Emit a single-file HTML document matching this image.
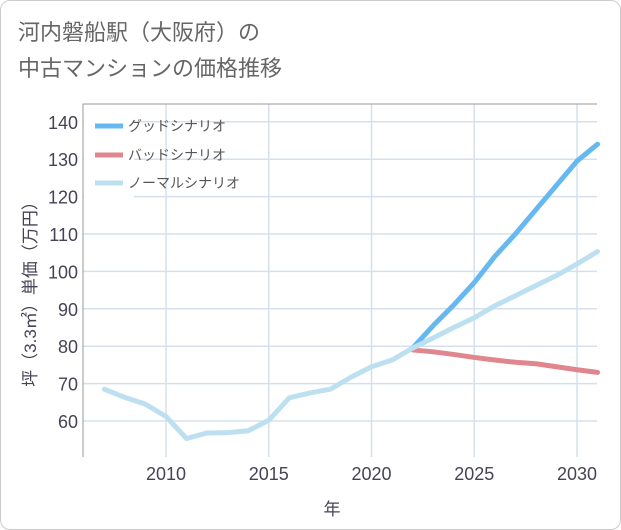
<!DOCTYPE html>
<html><head><meta charset="utf-8"><style>
body{margin:0;background:#fff;}
#wrap{width:619px;height:528px;border:1px solid #ccc;border-radius:10px;position:relative;overflow:hidden;background:#fff;font-family:"Liberation Sans","Noto Sans CJK JP",sans-serif;}
</style></head><body>
<div id="wrap">
<svg id="c" width="621" height="530" style="position:absolute;left:-1px;top:-1px"></svg>
</div>
<script>
const years=[2007,2008,2009,2010,2011,2012,2013,2014,2015,2016,2017,2018,2019,2020,2021,2022,2023,2024,2025,2026,2027,2028,2029,2030,2031];
const normal=[68.5,66.3,64.5,61.2,55.3,56.8,56.9,57.4,60.2,66.2,67.5,68.5,71.7,74.5,76.3,79.5,82.2,85.0,87.6,90.8,93.5,96.2,98.9,102,105.3];
const goodYears=[2022,2023,2024,2025,2026,2027,2028,2029,2030,2031];
const good=[79.5,85.5,91,97,104,110,116.5,123,129.5,134];
const bad=[79,78.5,77.8,77,76.3,75.7,75.3,74.5,73.7,73];
const yTicks=[60,70,80,90,100,110,120,130,140];
const xTicks=[2010,2015,2020,2025,2030];
const NS="http://www.w3.org/2000/svg";
const svg=document.getElementById('c');
const L=83,R=597,T=104,B=457;
const x=v=>166+(v-2010)*20.55;
const y=v=>421-(v-60)*3.74;
function mk(t,a,p){const e=document.createElementNS(NS,t);for(const k in a)e.setAttribute(k,a[k]);(p||svg).appendChild(e);return e;}
function txt(s,a){const e=mk('text',a);e.textContent=s;return e;}
const t1=txt('河内磐船駅（大阪府）の',{x:18,y:40,'font-size':22,fill:'#666'});


const t2=txt('中古マンションの価格推移',{x:18,y:76,'font-size':22,fill:'#666'});


yTicks.forEach(v=>{
 const g=mk('line',{x1:L,x2:R,y1:y(v),y2:y(v),stroke:'#d5e0ec','stroke-width':1.5});
 
 
 const l=txt(v,{x:78,y:y(v)+7,'font-size':18,fill:'#445','text-anchor':'end'});
 
 
});
xTicks.forEach(v=>{
 const g=mk('line',{x1:x(v),x2:x(v),y1:T,y2:B,stroke:'#d5e0ec','stroke-width':1.5});
 
 
 const l=txt(v,{x:x(v),y:480,'font-size':18,fill:'#445','text-anchor':'middle'});
 
 
});
const fr=mk('path',{d:`M${L},${B}V${T}H${R}`,fill:'none',stroke:'#999','stroke-width':1});


const xt=txt('年',{x:332,y:515,'font-size':17,fill:'#445','text-anchor':'middle'});


const yt=txt('坪（3.3㎡）単価（万円）',{x:0,y:0,'font-size':17,fill:'#445','text-anchor':'middle',transform:'translate(36,290) rotate(-90)'});


function line(xs,vs,col,name){
 const p=mk('polyline',{points:xs.map((v,i)=>x(v)+','+y(vs[i])).join(' '),fill:'none',stroke:col,'stroke-width':5,'stroke-linejoin':'round','stroke-linecap':'round'});
 
 
}
line(goodYears,bad,'#e0868e','bad-scenario-line');
line(goodYears,good,'#66b8f0','good-scenario-line');
line(years,normal,'#bde0f0','normal-scenario-line');
const lb=mk('rect',{x:84,y:110,width:50,height:90,fill:'#fff'});


[['グッドシナリオ','#66b8f0',126],['バッドシナリオ','#e0868e',155],['ノーマルシナリオ','#bde0f0',183]].forEach(([s,c,yy])=>{
 const m=mk('line',{x1:95,x2:123,y1:yy,y2:yy,stroke:c,'stroke-width':5});
 
 
 const l=txt(s,{x:128,y:yy+5,'font-size':14,fill:'#555'});
 
 
});
</script>
</body></html>
